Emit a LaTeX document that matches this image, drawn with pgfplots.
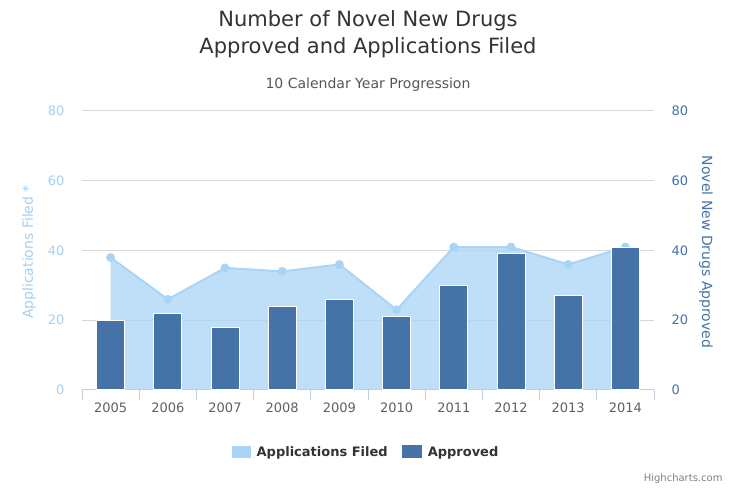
\documentclass[border=0pt]{standalone}
\usepackage{pgfplots}
\pgfplotsset{compat=1.18}
\usepackage{fontspec}
\setmainfont{DejaVu Sans}
\definecolor{appl}{HTML}{A9D4F5}
\definecolor{lefttxt}{HTML}{A6CFF0}
\definecolor{appr}{HTML}{4572A7}
\definecolor{gridc}{HTML}{D8D8D8}
\definecolor{axisc}{HTML}{C0D0E0}
\definecolor{ticktxt}{HTML}{606060}
\definecolor{titlec}{HTML}{333333}
\definecolor{subc}{HTML}{555555}
\begin{document}
\begin{tikzpicture}[x=1bp,y=1bp]
\path[use as bounding box] (0,0) rectangle (736,490);
% titles
\node[text=titlec, font=\fontsize{21bp}{25bp}\selectfont] at (368,469) {Number of Novel New Drugs};
\node[text=titlec, font=\fontsize{21bp}{25bp}\selectfont] at (368,442) {Approved and Applications Filed};
\node[text=subc, font=\fontsize{14bp}{17bp}\selectfont] at (368,405) {10 Calendar Year Progression};
\node[text=lefttxt, rotate=90, font=\fontsize{14bp}{17bp}\selectfont] at (29,238) {Applications Filed *};
\node[text=appr, rotate=-90, font=\fontsize{14bp}{17bp}\selectfont] at (706,238) {Novel New Drugs Approved};
\node[anchor=east, text=gray, font=\fontsize{10bp}{12bp}\selectfont] at (726,11) {Highcharts.com};

\begin{axis}[
  at={(82bp,100bp)}, anchor=south west,
  scale only axis, width=572bp, height=279bp,
  xmin=-0.5, xmax=9.5, ymin=0, ymax=80,
  axis x line*=bottom, axis y line*=left,
  y axis line style={draw=none},
  x axis line style={draw=axisc, line width=1bp},
  xtick={0,1,2,3,4,5,6,7,8,9},
  xticklabels={2005,2006,2007,2008,2009,2010,2011,2012,2013,2014},
  extra x ticks={-0.5,0.5,1.5,2.5,3.5,4.5,5.5,6.5,7.5,8.5,9.5},
  extra x tick labels={},
  extra x tick style={major tick length=10bp, tick align=outside, major tick style={draw=axisc, line width=1bp}},
  major tick length=0pt,
  ytick={0,20,40,60,80},
  ymajorgrids,
  y grid style={draw=gridc, line width=1bp},
  /pgf/number format/assume math mode=true,
  xticklabel style={text=ticktxt, font=\fontsize{13bp}{15bp}\selectfont, yshift=-9bp},
  yticklabel style={text=lefttxt, font=\fontsize{13bp}{15bp}\selectfont, xshift=-14bp},
  clip=false,
]
\addplot[fill=appl, fill opacity=0.75, draw=none, forget plot]
  coordinates {(0,38) (1,26) (2,35) (3,34) (4,36) (5,23) (6,41) (7,41) (8,36) (9,41)} \closedcycle;
\addplot[color=appl, line width=2bp, mark=*, mark size=4bp, mark options={solid, draw=appl, fill=appl, line width=0.8bp}]
  coordinates {(0,38) (1,26) (2,35) (3,34) (4,36) (5,23) (6,41) (7,41) (8,36) (9,41)};
\end{axis}

\begin{axis}[
  at={(82bp,100bp)}, anchor=south west,
  scale only axis, width=572bp, height=279bp,
  xmin=-0.5, xmax=9.5, ymin=0, ymax=80,
  axis x line=none, axis y line*=right,
  y axis line style={draw=none},
  major tick length=0pt,
  ytick={0,20,40,60,80},
  /pgf/number format/assume math mode=true,
  yticklabel style={text=appr, font=\fontsize{13bp}{15bp}\selectfont, xshift=14bp},
  legend columns=2,
  legend style={at={(axis description cs:0.5,-0.222)}, anchor=center, draw=none, fill=none,
    font=\bfseries\fontsize{13bp}{15bp}\selectfont, text=titlec,
    nodes={inner xsep=6bp},
    /tikz/every even column/.append style={column sep=8bp}},
  legend cell align=left,
]
\addlegendimage{draw=none, fill=appl, legend image code/.code={\fill[appl] (0bp,-6bp) rectangle (19bp,6bp);}}
\addlegendentry{Applications Filed}
\addplot[ybar, bar width=28bp, fill=appr, draw=white, line width=1bp,
  legend image code/.code={\fill[appr] (0bp,-6bp) rectangle (19bp,6bp);}]
  coordinates {(0,20) (1,22) (2,18) (3,24) (4,26) (5,21) (6,30) (7,39) (8,27) (9,41)};
\addlegendentry{Approved}
\end{axis}
\end{tikzpicture}
\end{document}
